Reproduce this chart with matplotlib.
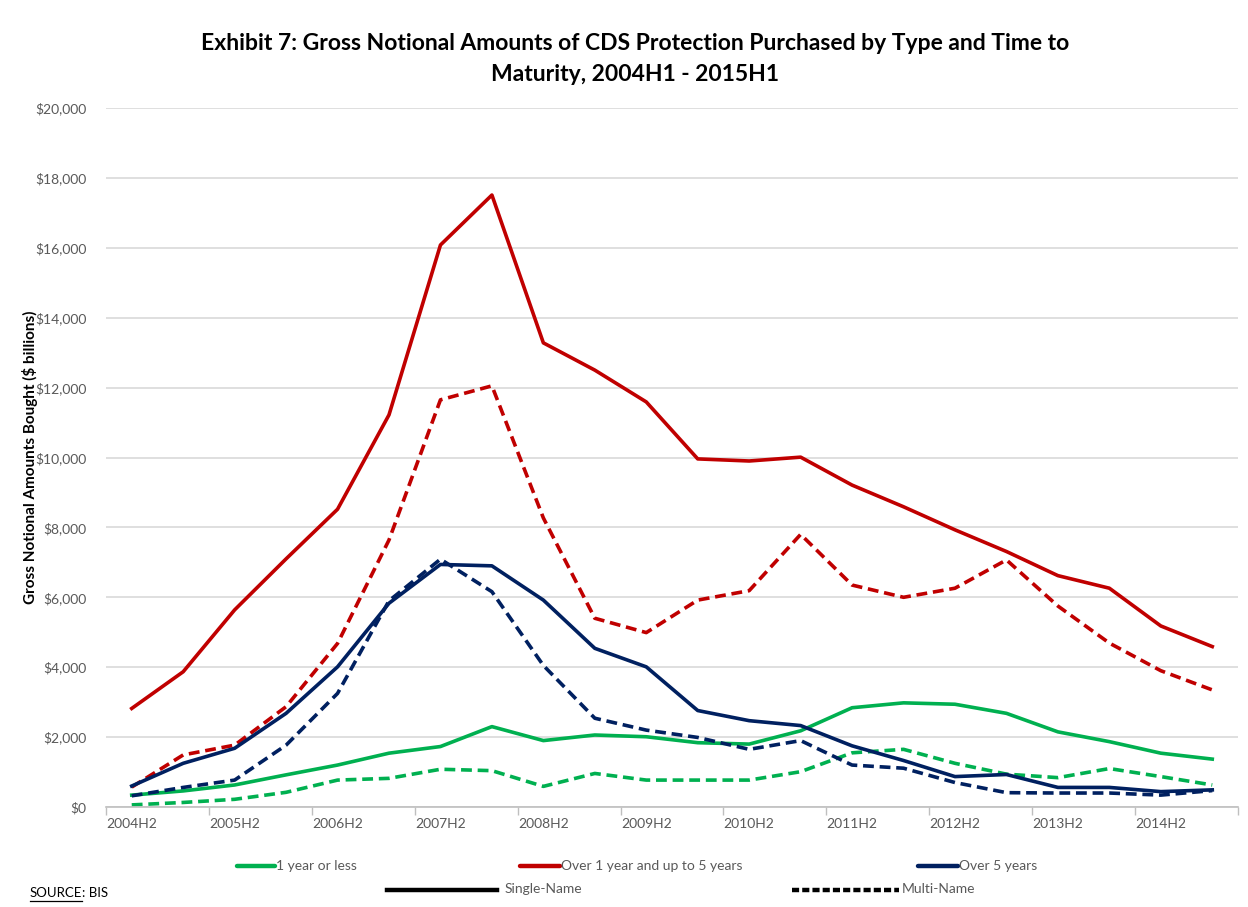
import matplotlib
matplotlib.use("Agg")
import matplotlib.pyplot as plt
from matplotlib.lines import Line2D
from matplotlib.ticker import FuncFormatter, FixedLocator

plt.rcParams['font.family'] = ['Lato', 'DejaVu Sans']

periods = ["2004H2", "2005H1", "2005H2", "2006H1", "2006H2", "2007H1", "2007H2", "2008H1",
           "2008H2", "2009H1", "2009H2", "2010H1", "2010H2", "2011H1", "2011H2", "2012H1",
           "2012H2", "2013H1", "2013H2", "2014H1", "2014H2", "2015H1"]

# $ billions
single_1y = [340, 460, 630, 920, 1200, 1540, 1730, 2300, 1900, 2060, 2010, 1840, 1800, 2180,
             2840, 2980, 2940, 2680, 2150, 1870, 1540, 1370]
multi_1y = [60, 130, 220, 420, 770, 820, 1080, 1040, 590, 960, 770, 770, 770, 1010,
            1550, 1650, 1250, 940, 840, 1100, 870, 630]
single_1to5 = [2820, 3870, 5640, 7100, 8520, 11220, 16080, 17510, 13280, 12500, 11590, 9960,
               9900, 10010, 9210, 8590, 7930, 7310, 6620, 6260, 5180, 4590]
multi_1to5 = [570, 1490, 1770, 2870, 4680, 7640, 11650, 12050, 8270, 5400, 4990, 5920,
              6190, 7800, 6350, 6000, 6260, 7070, 5750, 4690, 3900, 3350]
single_5y = [600, 1250, 1680, 2680, 4010, 5830, 6940, 6900, 5920, 4540, 4010, 2760, 2470,
             2330, 1750, 1330, 870, 930, 560, 560, 440, 490]
multi_5y = [320, 560, 770, 1770, 3250, 5900, 7090, 6160, 4050, 2540, 2200, 1990, 1650,
            1900, 1200, 1110, 700, 410, 400, 400, 340, 470]

GREEN = "#00B050"
RED = "#C00000"
NAVY = "#002060"
GRID = "#D9D9D9"
TXT = "#595959"

fig = plt.figure(figsize=(12.48, 9.07), dpi=100)
ax = fig.add_axes([106/1248, 1 - 807/907, (1238-106)/1248, (807-108)/907])

x = list(range(len(periods)))
lw = 2.6
dash = (3.0, 1.6)
ax.plot(x, single_1y, color=GREEN, lw=lw)
ax.plot(x, multi_1y, color=GREEN, lw=lw, dashes=dash)
ax.plot(x, single_1to5, color=RED, lw=lw)
ax.plot(x, multi_1to5, color=RED, lw=lw, dashes=dash)
ax.plot(x, single_5y, color=NAVY, lw=lw)
ax.plot(x, multi_5y, color=NAVY, lw=lw, dashes=dash)

ax.set_xlim(-0.5, len(periods) - 0.5)
ax.set_ylim(0, 20000)
ax.set_yticks(range(0, 20001, 2000))
ax.yaxis.set_major_formatter(FuncFormatter(lambda v, p: f"${int(v):,}"))
ax.grid(axis='y', color=GRID, lw=1.2)
ax.set_axisbelow(True)

label_idx = list(range(0, len(periods), 2))
ax.set_xticks(label_idx)
ax.set_xticklabels([periods[i] for i in label_idx])
ax.xaxis.set_minor_locator(FixedLocator([i - 0.5 for i in range(0, len(periods) + 1, 2)]))
ax.tick_params(axis='x', which='major', length=0, pad=8, labelsize=10, labelcolor=TXT)
ax.tick_params(axis='x', which='minor', length=6, color="#BFBFBF", width=1)
ax.tick_params(axis='y', length=0, pad=14, labelsize=10, labelcolor=TXT)
for s in ['top', 'right', 'left']:
    ax.spines[s].set_visible(False)
ax.spines['bottom'].set_color("#BFBFBF")
ax.spines['bottom'].set_linewidth(1.2)

ax.set_ylabel("Gross Notional Amounts Bought ($ billions)", fontsize=11, fontweight='bold',
              color='black')
ax.yaxis.set_label_coords(-68/1132, 0.5)

fig.text(635/1248, 1 - 59/907,
         "Exhibit 7: Gross Notional Amounts of CDS Protection Purchased by Type and Time to\nMaturity, 2004H1 - 2015H1",
         ha='center', va='center', fontsize=16.5, fontweight='bold', linespacing=1.6)

def fx(px):
    return px / 1248
def fy(py):
    return 1 - py / 907

# legend row 1
for x0, x1, col, lab in [(237, 275, GREEN, "1 year or less"),
                         (520, 560, RED, "Over 1 year and up to 5 years"),
                         (918, 958, NAVY, "Over 5 years")]:
    fig.add_artist(Line2D([fx(x0), fx(x1)], [fy(866), fy(866)], color=col, lw=3.2,
                          transform=fig.transFigure, solid_capstyle='round'))
    fig.text(fx(x1 + 1), fy(866), lab, ha='left', va='center', fontsize=10, color=TXT)

# legend row 2
fig.add_artist(Line2D([fx(387), fx(497)], [fy(890), fy(890)], color='black', lw=3.2,
                      transform=fig.transFigure))
fig.text(fx(505), fy(889), "Single-Name", ha='left', va='center', fontsize=10, color=TXT)
fig.add_artist(Line2D([fx(792), fx(899)], [fy(890), fy(890)], color='black', lw=3.2,
                      dashes=(1.6, 0.7), transform=fig.transFigure))
fig.text(fx(902), fy(889), "Multi-Name", ha='left', va='center', fontsize=10, color=TXT)

# source
t1 = fig.text(fx(30), fy(893), "SOURCE", ha='left', va='center', fontsize=9.5, color='black')
fig.canvas.draw()
bb = t1.get_window_extent()
t2 = fig.text(bb.x1 / fig.bbox.width, fy(893), ": BIS", ha='left', va='center',
              fontsize=9.5, color='black')
fig.add_artist(Line2D([bb.x0 / fig.bbox.width, bb.x1 / fig.bbox.width],
                      [(bb.y0 - 2) / fig.bbox.height] * 2, color='black', lw=0.9,
                      transform=fig.transFigure))

fig.savefig("out.png", dpi=100, facecolor='white')
